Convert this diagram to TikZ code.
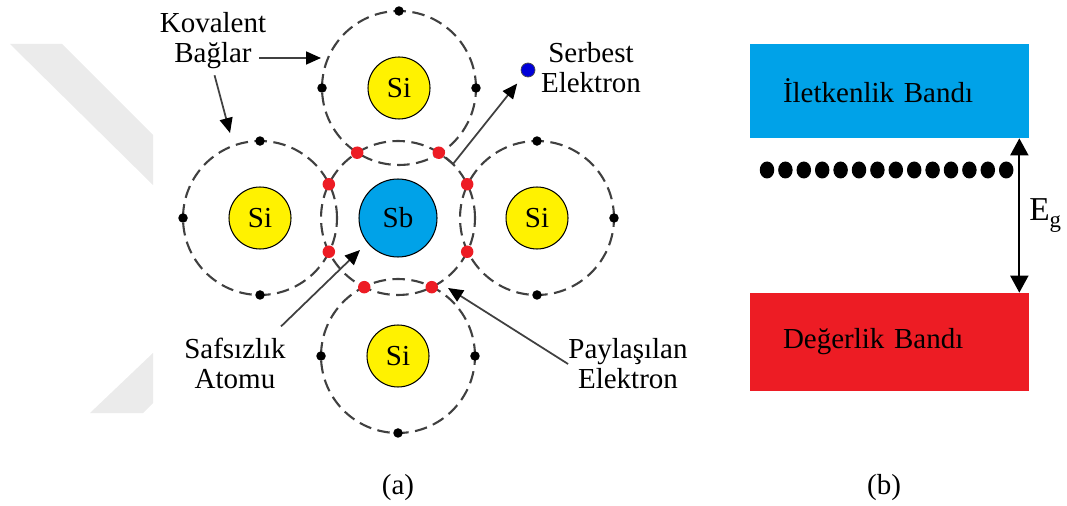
\documentclass[tikz,border=0pt]{standalone}
\usepackage{fontspec}
\setmainfont{Liberation Serif}
\usetikzlibrary{arrows.meta,calc,shapes.geometric}

\definecolor{siyellow}{RGB}{255,242,0}
\definecolor{sbblue}{RGB}{0,162,232}
\definecolor{bandred}{RGB}{237,28,36}
\definecolor{orbitgray}{RGB}{64,64,64}
\definecolor{markgray}{RGB}{235,235,235}

\tikzset{
  atom/.style={circle,draw=black,line width=0.6pt,minimum size=1.24cm,inner sep=0pt,fill=siyellow},
  impurity/.style={atom,minimum size=1.56cm,fill=sbblue},
  orbit/.style={draw=orbitgray,line width=1.2pt,dash pattern=on 0.25cm off 0.13cm},
  valence/.style={circle,fill=black,minimum size=0.19cm,inner sep=0pt},
  shared/.style={circle,fill=bandred,minimum size=0.25cm,inner sep=0pt},
  pointer/.style={draw=orbitgray,line width=1pt,-{Triangle[length=0.3cm,width=0.26cm,color=black]}},
  note/.style={align=center,inner sep=0pt},
  band/.style={rectangle,minimum width=5.58cm,inner xsep=0.66cm,text width=4.26cm,align=left},
  gapdot/.style={ellipse,fill=black,minimum width=0.29cm,minimum height=0.34cm,inner sep=0pt},
  bandgap/.style={draw=black,line width=1.1pt,{Triangle[length=0.34cm,width=0.36cm]}-{Triangle[length=0.34cm,width=0.36cm]}}
}

\begin{document}
\begin{tikzpicture}[x=0.02cm,y=-0.02cm,font=\rmfamily\fontsize{16.5}{17}\selectfont]
\useasboundingbox (0,0) rectangle (1067,506);

\fill[markgray] (10,44) -- (62,44) -- (153,135) -- (153,185) -- cycle;
\fill[markgray] (90,413) -- (143,413) -- (153,403) -- (153,353) -- cycle;

% (a) lattice
\node[impurity] (sb) at (398,218) {Sb};
\node[atom] (siT) at (399,88) {Si};
\node[atom] (siL) at (260,218) {Si};
\node[atom] (siR) at (537,218) {Si};
\node[atom] (siB) at (398,356) {Si};

\foreach \a in {sb,siT,siL,siR,siB}
  \draw[orbit] (\a) circle[radius=1.54cm];

\foreach \a/\b in {siT/0,siT/90,siT/180,siL/90,siL/180,siL/270,
                   siR/0,siR/90,siR/270,siB/0,siB/180,siB/270}
  \node[valence] (\a-\b) at ($(\a)+(\b:1.54cm)$) {};

\foreach \b [count=\i] in {58,122,154,206,244,296,334,26}
  \node[shared] (e\i) at ($(sb)+(\b:1.54cm)$) {};

\node[circle,draw=black!70,fill=blue!85!black,minimum size=0.28cm,inner sep=0pt] (free) at (528,70) {};
\coordinate (kink) at (453,164);
\draw[pointer,shorten >=0.2cm] (e1) -- (kink) -- (free);

\node[note] (kov) at (213,41) {Kovalent\\Bağlar};
\node[note] (serbest) at (591,68) {Serbest\\Elektron};
\node[note] (saf) at (235,363) {Safsızlık\\Atomu};
\node[note] (pay) at (628,364) {Paylaşılan\\Elektron};

\coordinate (bondT) at (321,58);
\coordinate (bondL) at (230,133);
\coordinate (sbTip) at (360,250);
\coordinate (sharedTip) at (448,288);
\draw[pointer] ([xshift=-0.14cm]kov.east |- bondT) -- (bondT);
\draw[pointer,shorten <=0.12cm] (kov.south) -- (bondL);
\draw[pointer] ([shift={(-5,-11)}]saf.north east) -- (sbTip);
\draw[pointer] (pay.west) -- (sharedTip);

% (b) bands
\node[band,fill=sbblue,minimum height=1.88cm] (cb) at (889.5,91) {İletkenlik Bandı};
\node[band,fill=bandred,minimum height=1.96cm] (vb) at (889.5,342) {Değerlik Bandı};
\foreach \i in {0,...,13}
  \node[gapdot] (d\i) at (767+18.4*\i,170) {};
\draw[bandgap] ([xshift=-0.2cm]cb.south east) -- ([xshift=-0.2cm]vb.north east)
  node[midway,right=0.18cm,inner sep=0pt] (eg) {\fontsize{19}{19}\selectfont E\raisebox{-0.45ex}{\fontsize{13}{13}\selectfont g}};

\node (capA) at (398,488) {(a)};
\node (capB) at (884,488) {(b)};
\end{tikzpicture}
\end{document}
